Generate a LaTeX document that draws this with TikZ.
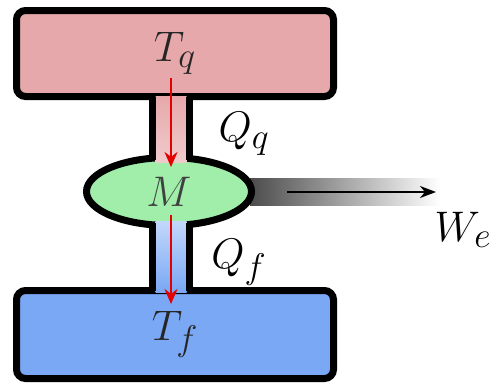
\documentclass[tikz,border=0pt]{standalone}
\usetikzlibrary{shapes.geometric, arrows.meta, positioning}

\definecolor{hotpink}{RGB}{230,168,170}
\definecolor{enggreen}{RGB}{160,238,170}
\definecolor{coldblue}{RGB}{122,168,245}
\newcommand{\bigsym}[1]{\scalebox{1.72}{\Huge$#1$}}

\begin{document}
\begin{tikzpicture}[
    x=1pt, y=-1pt,
    reservoir/.style={rectangle, draw=black, line width=7pt, rounded corners=9pt, minimum width=317pt, inner sep=0pt},
    engine/.style={ellipse, draw=black, line width=7pt, fill=enggreen, minimum width=165pt, minimum height=68pt, inner sep=0pt},
    wall/.style={line width=7pt, draw=black},
    heat/.style={-{Stealth[length=15pt, width=13pt]}, line width=2.5pt, draw=red!90!black},
    work/.style={-{Stealth[length=16pt, width=12pt, inset=5pt]}, line width=2pt, draw=black},
    lbl/.style={inner sep=0pt}
]
\useasboundingbox (0,0) rectangle (499,388);

% background bar for the work output
\shade[left color=black!70, right color=white] (250,178) rectangle (440,205);

% 1. Reservoirs and engine
\node[reservoir, fill=hotpink, minimum height=86pt, text=black!85] (hot) at (175,53.5) {\bigsym{T_q}\hspace{-4pt}};
\node[reservoir, fill=coldblue, minimum height=88pt, text=black!85] (cold) at (175,334.5) {\bigsym{T_f}\hspace{4pt}};
\node[engine, text=black!75] (engine) at (169,191.5) {\bigsym{M}};

% 2. Stems between them
\shade[top color=hotpink, bottom color=hotpink!60] (155.5,96) rectangle (186.5,162);
\shade[top color=coldblue!45, bottom color=coldblue] (155.5,221) rectangle (186.5,292);
\draw[wall] (152.5,96.5) -- (152.5,160);
\draw[wall] (189.5,96.5) -- (189.5,160);
\draw[wall] (152.5,223) -- (152.5,291);
\draw[wall] (189.5,223) -- (189.5,291);

% 3. Heat flows
\coordinate (qin) at (171,78);
\coordinate (qout) at (171,215);
\draw[heat] (qin) -- (qin |- engine.north) -- ++(0,13);
\draw[heat] (qout) -- (qout |- cold.north) -- ++(0,17);

% 4. Work output
\coordinate (wstart) at (287,192);
\coordinate (wend) at (436,192);
\draw[work] (wstart) -- (wend);

% 5. Labels
\node[lbl] (Qq) at (244,134) {\bigsym{Q_q}};
\node[lbl] (Qf) at (239,262) {\bigsym{Q_f}};
\node[lbl] (We) at (463,230) {\bigsym{W_e}};

\end{tikzpicture}
\end{document}
